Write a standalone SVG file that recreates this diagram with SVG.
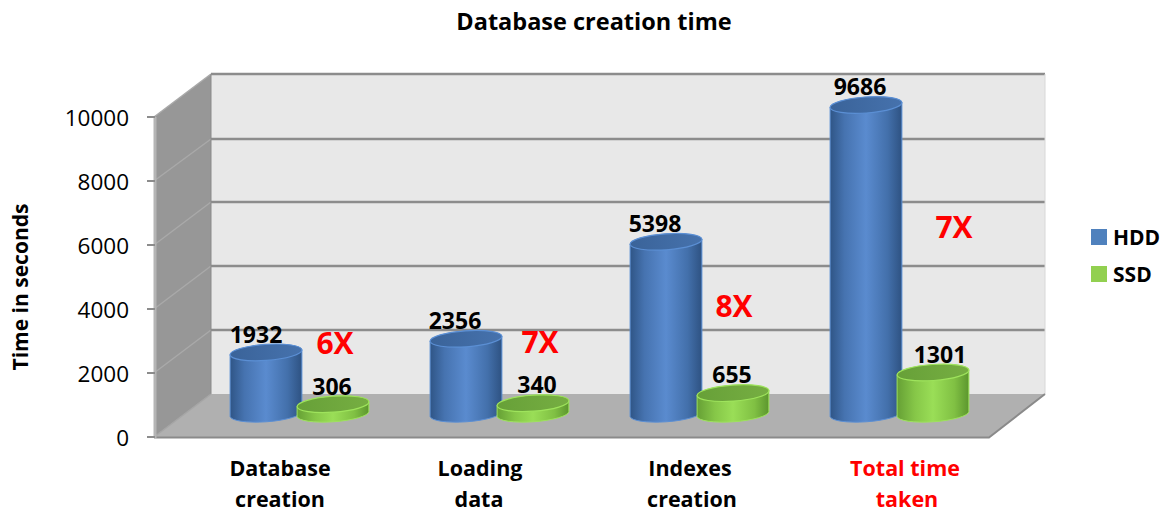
<svg xmlns="http://www.w3.org/2000/svg" width="1165" height="512" viewBox="0 0 1165 512">
<defs>
<linearGradient id="hddSide" x1="0" y1="0" x2="1" y2="0">
<stop offset="0" stop-color="#2f5586"/>
<stop offset="0.2" stop-color="#4673b0"/>
<stop offset="0.5" stop-color="#5a8bcf"/>
<stop offset="0.8" stop-color="#4370ab"/>
<stop offset="1" stop-color="#2e5282"/>
</linearGradient>
<linearGradient id="hddTop" x1="0" y1="0" x2="1" y2="0">
<stop offset="0" stop-color="#3a6399"/>
<stop offset="1" stop-color="#4672ad"/>
</linearGradient>
<linearGradient id="ssdSide" x1="0" y1="0" x2="1" y2="0">
<stop offset="0" stop-color="#66a035"/>
<stop offset="0.25" stop-color="#86c748"/>
<stop offset="0.5" stop-color="#9ade57"/>
<stop offset="0.8" stop-color="#80c043"/>
<stop offset="1" stop-color="#5c962e"/>
</linearGradient>
<linearGradient id="ssdTop" x1="0" y1="0" x2="1" y2="0">
<stop offset="0" stop-color="#67a038"/>
<stop offset="1" stop-color="#76ae42"/>
</linearGradient>
<style>
.grid{stroke:#8c8c8c;stroke-width:2.5;fill:none}
.sgrid{stroke:#a9a9a9;stroke-width:1.5;fill:none}
.tick{stroke:#8c8c8c;stroke-width:2;fill:none}
.hdd-side{fill:url(#hddSide);stroke:#5b8fd4;stroke-width:1}
.hdd-top{fill:url(#hddTop);stroke:#5b8fd4;stroke-width:1.2}
.ssd-side{fill:url(#ssdSide);stroke:#9ee35c;stroke-width:1}
.ssd-top{fill:url(#ssdTop);stroke:#9ee35c;stroke-width:1.2}
.val{font-family:"Open Sans","Liberation Sans",sans-serif;font-weight:bold;font-size:23px;fill:#000;text-anchor:middle}
.mult{font-family:"Open Sans","Liberation Sans",sans-serif;font-weight:bold;font-size:30px;fill:#ff0000;text-anchor:middle}
.axis{font-family:"Open Sans","Liberation Sans",sans-serif;font-size:22.5px;fill:#000;text-anchor:end}
.cat{font-family:"Open Sans","Liberation Sans",sans-serif;font-weight:bold;font-size:21.5px;fill:#000;text-anchor:middle}
.leg{font-family:"Open Sans","Liberation Sans",sans-serif;font-weight:bold;font-size:21px;fill:#000}
</style>
</defs>
<rect width="1165" height="512" fill="#ffffff"/>

<g id="title">
<text x="594" y="30" font-family="'Open Sans','Liberation Sans',sans-serif" font-weight="bold" font-size="23.5" text-anchor="middle">Database creation time</text>
</g>

<g id="plot-area">
<rect x="211" y="74" width="834" height="320" fill="#e8e8e8"/>
<line class="grid" x1="211" y1="74" x2="1045" y2="74"/>
<line class="grid" x1="211" y1="139" x2="1045" y2="139"/>
<line class="grid" x1="211" y1="202" x2="1045" y2="202"/>
<line class="grid" x1="211" y1="266" x2="1045" y2="266"/>
<line class="grid" x1="211" y1="330" x2="1045" y2="330"/>
<line x1="1045" y1="74" x2="1045" y2="394" stroke="#d8d8d8" stroke-width="1"/>
<polygon points="154,117 211,74 211,394 154,437" fill="#979797"/>
<line class="sgrid" x1="154" y1="181" x2="211" y2="139"/>
<line class="sgrid" x1="154" y1="245" x2="211" y2="202"/>
<line class="sgrid" x1="154" y1="309" x2="211" y2="266"/>
<line class="sgrid" x1="154" y1="373" x2="211" y2="330"/>
<line x1="154" y1="117" x2="211" y2="74" stroke="#a9a9a9" stroke-width="1.5"/>
<line x1="211" y1="74" x2="211" y2="394" stroke="#8a8a8a" stroke-width="1"/>
<polygon points="154,437 211,394 1045,394 989,437" fill="#b0b0b0"/>
<line x1="154" y1="437" x2="211" y2="394" stroke="#a5a5a5" stroke-width="1.5"/>
<polyline points="154,437.5 989,437.5 1045,394" fill="none" stroke="#8a8a8a" stroke-width="2"/>
<line x1="155" y1="117" x2="155" y2="438" stroke="#b5b5b5" stroke-width="3"/>
<line class="tick" x1="147" y1="117" x2="155" y2="117"/>
<line class="tick" x1="147" y1="181" x2="155" y2="181"/>
<line class="tick" x1="147" y1="245" x2="155" y2="245"/>
<line class="tick" x1="147" y1="309" x2="155" y2="309"/>
<line class="tick" x1="147" y1="373" x2="155" y2="373"/>
<line class="tick" x1="147" y1="437" x2="155" y2="437"/>
</g>

<g id="axis-labels">
<text class="axis" x="129" y="126">10000</text>
<text class="axis" x="129" y="190">8000</text>
<text class="axis" x="129" y="254">6000</text>
<text class="axis" x="129" y="318">4000</text>
<text class="axis" x="129" y="382">2000</text>
<text class="axis" x="129" y="446">0</text>
<text transform="translate(28,287) rotate(-90)" x="0" y="0" font-family="'Open Sans','Liberation Sans',sans-serif" font-weight="bold" font-size="21" text-anchor="middle">Time in seconds</text>
</g>

<g id="hdd-bars">
<g id="hdd-1">
<path class="hdd-side" d="M230.1,354.9 L230.1,416.5 A36,8 -4 0 0 301.9,411.5 L301.9,349.9 A36,8 -4 0 0 230.1,354.9 Z"/>
<ellipse class="hdd-top" cx="266" cy="352.4" rx="36" ry="8" transform="rotate(-4 266 352.4)"/>
</g>
<g id="hdd-2">
<path class="hdd-side" d="M430.1,341.3 L430.1,416.5 A36,8 -4 0 0 501.9,411.5 L501.9,336.3 A36,8 -4 0 0 430.1,341.3 Z"/>
<ellipse class="hdd-top" cx="466" cy="338.8" rx="36" ry="8" transform="rotate(-4 466 338.8)"/>
</g>
<g id="hdd-3">
<path class="hdd-side" d="M630.1,244.3 L630.1,416.5 A36,8 -4 0 0 701.9,411.5 L701.9,239.3 A36,8 -4 0 0 630.1,244.3 Z"/>
<ellipse class="hdd-top" cx="666" cy="241.8" rx="36" ry="8" transform="rotate(-4 666 241.8)"/>
</g>
<g id="hdd-4">
<path class="hdd-side" d="M830.1,107.5 L830.1,416.5 A36,8 -4 0 0 901.9,411.5 L901.9,102.5 A36,8 -4 0 0 830.1,107.5 Z"/>
<ellipse class="hdd-top" cx="866" cy="105" rx="36" ry="8" transform="rotate(-4 866 105)"/>
</g>
</g>

<g id="ssd-bars">
<g id="ssd-1">
<path class="ssd-side" d="M297.1,406.7 L297.1,416.5 A36,8 -4 0 0 368.9,411.5 L368.9,401.7 A36,8 -4 0 0 297.1,406.7 Z"/>
<ellipse class="ssd-top" cx="333" cy="404.2" rx="36" ry="8" transform="rotate(-4 333 404.2)"/>
</g>
<g id="ssd-2">
<path class="ssd-side" d="M497.1,405.7 L497.1,416.5 A36,8 -4 0 0 568.9,411.5 L568.9,400.7 A36,8 -4 0 0 497.1,405.7 Z"/>
<ellipse class="ssd-top" cx="533" cy="403.2" rx="36" ry="8" transform="rotate(-4 533 403.2)"/>
</g>
<g id="ssd-3">
<path class="ssd-side" d="M697.1,395.6 L697.1,416.5 A36,8 -4 0 0 768.9,411.5 L768.9,390.6 A36,8 -4 0 0 697.1,395.6 Z"/>
<ellipse class="ssd-top" cx="733" cy="393.1" rx="36" ry="8" transform="rotate(-4 733 393.1)"/>
</g>
<g id="ssd-4">
<path class="ssd-side" d="M897.1,375 L897.1,416.5 A36,8 -4 0 0 968.9,411.5 L968.9,370 A36,8 -4 0 0 897.1,375 Z"/>
<ellipse class="ssd-top" cx="933" cy="372.5" rx="36" ry="8" transform="rotate(-4 933 372.5)"/>
</g>
</g>

<g id="value-labels">
<text class="val" x="256" y="343">1932</text>
<text class="val" x="332" y="395">306</text>
<text class="val" x="455" y="329">2356</text>
<text class="val" x="537" y="393">340</text>
<text class="val" x="655" y="232">5398</text>
<text class="val" x="732" y="383">655</text>
<text class="val" x="860" y="95">9686</text>
<text class="val" x="940" y="363">1301</text>
</g>

<g id="multipliers">
<text class="mult" x="335" y="354">6X</text>
<text class="mult" x="540" y="353">7X</text>
<text class="mult" x="734" y="317">8X</text>
<text class="mult" x="954" y="238">7X</text>
</g>

<g id="category-labels">
<text class="cat" x="280" y="476">Database</text>
<text class="cat" x="280" y="507">creation</text>
<text class="cat" x="480" y="476">Loading</text>
<text class="cat" x="479" y="507">data</text>
<text class="cat" x="690" y="476">Indexes</text>
<text class="cat" x="692" y="507">creation</text>
<text class="cat" x="905" y="476" style="fill:#ff0000">Total time</text>
<text class="cat" x="907" y="507" style="fill:#ff0000">taken</text>
</g>

<g id="legend">
<g id="legend-hdd">
<rect x="1091" y="229" width="16" height="16" fill="#4f81bd"/>
<text class="leg" x="1113" y="245">HDD</text>
</g>
<g id="legend-ssd">
<rect x="1091" y="266" width="16" height="16" fill="#92d050"/>
<text class="leg" x="1113" y="282">SSD</text>
</g>
</g>
</svg>
